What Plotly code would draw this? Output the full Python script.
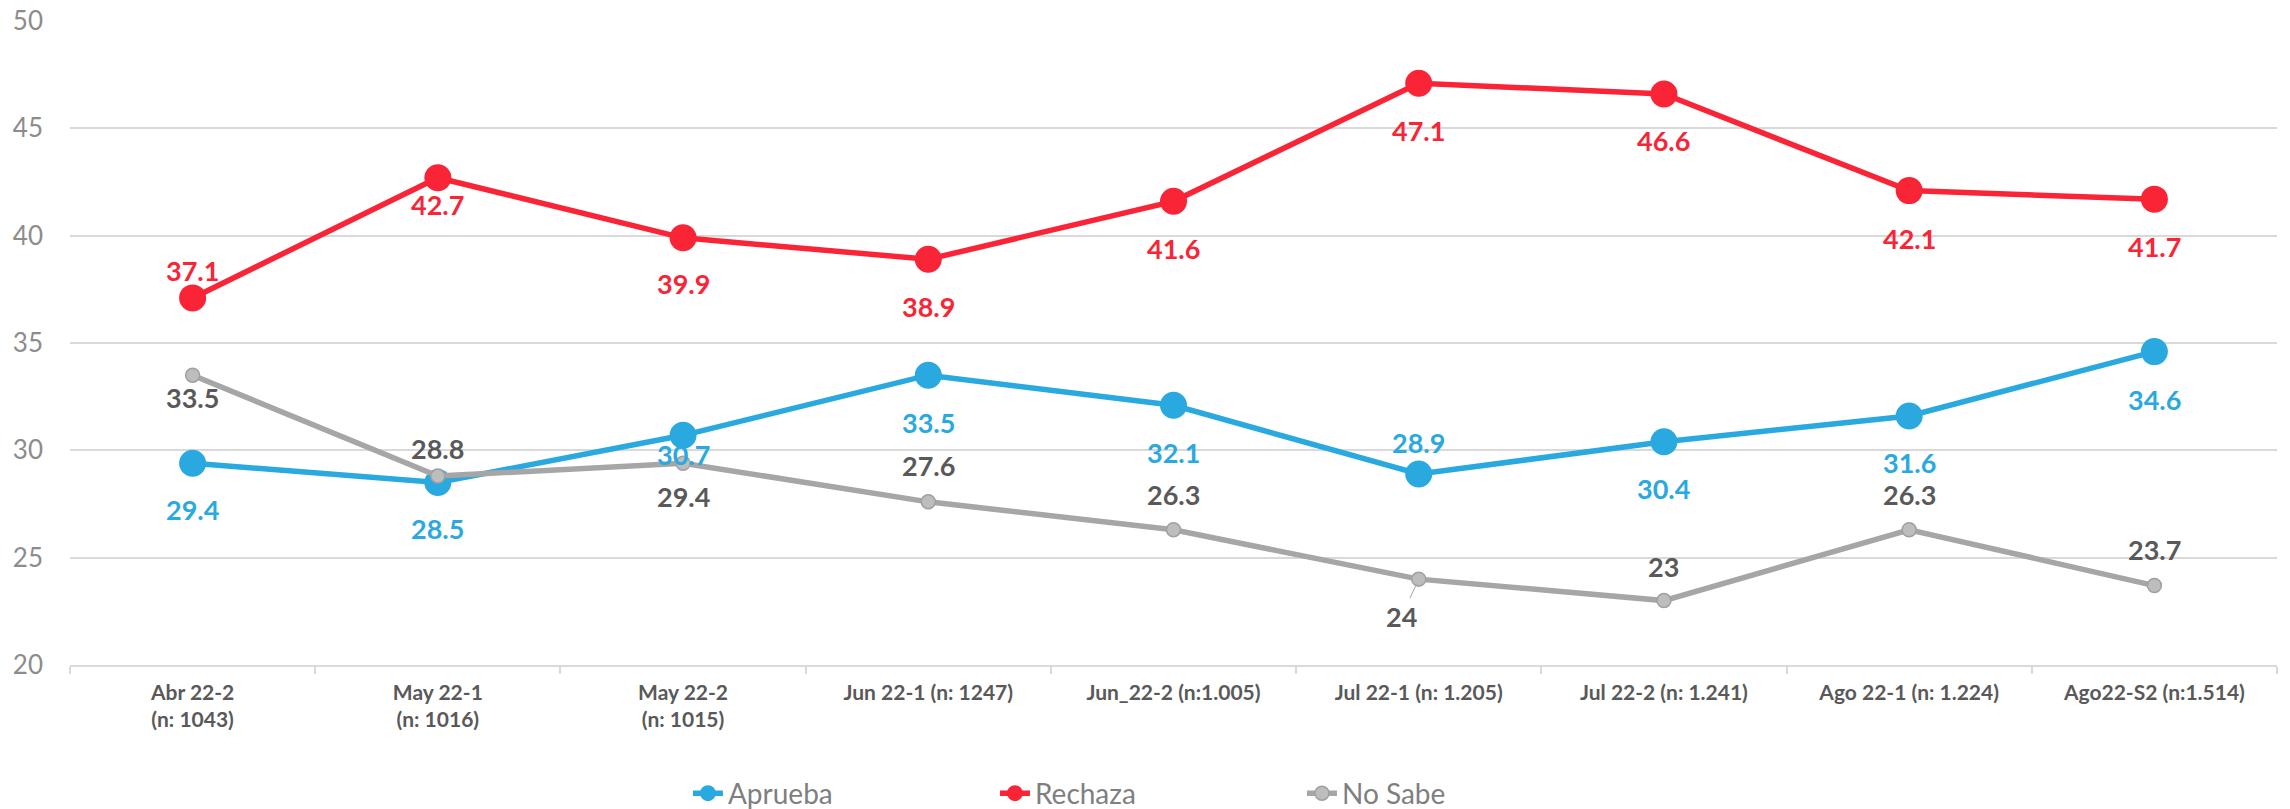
import plotly.graph_objects as go

categories = [
    "Abr 22-2<br>(n: 1043)",
    "May 22-1<br>(n: 1016)",
    "May 22-2<br>(n: 1015)",
    "Jun 22-1 (n: 1247)",
    "Jun_22-2 (n:1.005)",
    "Jul 22-1 (n: 1.205)",
    "Jul 22-2 (n: 1.241)",
    "Ago 22-1 (n: 1.224)",
    "Ago22-S2 (n:1.514)",
]
aprueba = [29.4, 28.5, 30.7, 33.5, 32.1, 28.9, 30.4, 31.6, 34.6]
rechaza = [37.1, 42.7, 39.9, 38.9, 41.6, 47.1, 46.6, 42.1, 41.7]
no_sabe = [33.5, 28.8, 29.4, 27.6, 26.3, 24, 23, 26.3, 23.7]
y_ticks = [20, 25, 30, 35, 40, 45, 50]

# label offsets in pixels (positive = up), style only
off_aprueba = [-46, -46, -19, -47, -47, 31, -47, -47, -48]
off_rechaza = [27, -27, -46, -47, -47, -47, -47, -48, -47]
off_nosabe = [-22, 28, -33, 36, 35, None, 34, 35, 36]

BLUE = "#29A9E0"
RED = "#F92436"
GRAY = "#A6A6A6"
GRAY_TXT = "#595959"
FONT = "Lato"

fig = go.Figure()
fig.add_trace(go.Scatter(
    x=categories, y=aprueba, name="Aprueba", mode="lines+markers",
    line=dict(color=BLUE, width=5.5), marker=dict(color=BLUE, size=27),
))
fig.add_trace(go.Scatter(
    x=categories, y=rechaza, name="Rechaza", mode="lines+markers",
    line=dict(color=RED, width=5.5), marker=dict(color=RED, size=27),
))
fig.add_trace(go.Scatter(
    x=categories, y=no_sabe, name="No Sabe", mode="lines+markers",
    line=dict(color=GRAY, width=5.5),
    marker=dict(color="#BDBDBD", size=14, line=dict(color="#A0A0A0", width=1.5)),
))

annotations = []

def fmt(v):
    return str(int(v)) if float(v).is_integer() else str(v)

for vals, offs, col in [(aprueba, off_aprueba, BLUE), (rechaza, off_rechaza, RED), (no_sabe, off_nosabe, GRAY_TXT)]:
    for c, v, o in zip(categories, vals, offs):
        if o is None:
            annotations.append(dict(
                x=c, y=v, text=fmt(v), showarrow=True, ax=-17, ay=37,
                arrowhead=0, arrowwidth=1, arrowcolor=GRAY, standoff=5,
                font=dict(family=FONT, size=27, color=col, weight="bold"),
            ))
        else:
            annotations.append(dict(
                x=c, y=v, text=fmt(v), showarrow=False, yshift=o,
                xanchor="center", yanchor="middle",
                font=dict(family=FONT, size=27, color=col, weight="bold"),
            ))

fig.update_layout(
    width=2282, height=801,
    margin=dict(l=62, r=13, t=13, b=144, autoexpand=False),
    paper_bgcolor="white", plot_bgcolor="white",
    font=dict(family=FONT),
    showlegend=True,
    legend=dict(
        orientation="h", x=0.28, xanchor="left", y=-0.1995, yanchor="middle",
        font=dict(family=FONT, size=28, color="#7F7F7F"),
        entrywidth=262, itemwidth=30,
    ),
    annotations=annotations,
    xaxis=dict(
        type="category", range=[-0.5, 8.5], automargin=False,
        showgrid=False, showline=True, linecolor="#D9D9D9", linewidth=1.5,
        ticks="outside", tickson="boundaries", ticklen=7, tickcolor="#D9D9D9", tickwidth=1.5,
        ticklabelstandoff=8,
        tickfont=dict(family=FONT, size=21, color=GRAY_TXT, weight="bold"),
        zeroline=False,
    ),
    yaxis=dict(
        range=[20, 50], tickvals=y_ticks, automargin=False,
        showgrid=True, gridcolor="#D9D9D9", gridwidth=1.5,
        zeroline=False, showline=False, ticks="", ticklabelstandoff=26,
        ticklabeloverflow="allow",
        tickfont=dict(family=FONT, size=26, color="#8C8C8C"),
    ),
)

fig.write_html("out.html")
